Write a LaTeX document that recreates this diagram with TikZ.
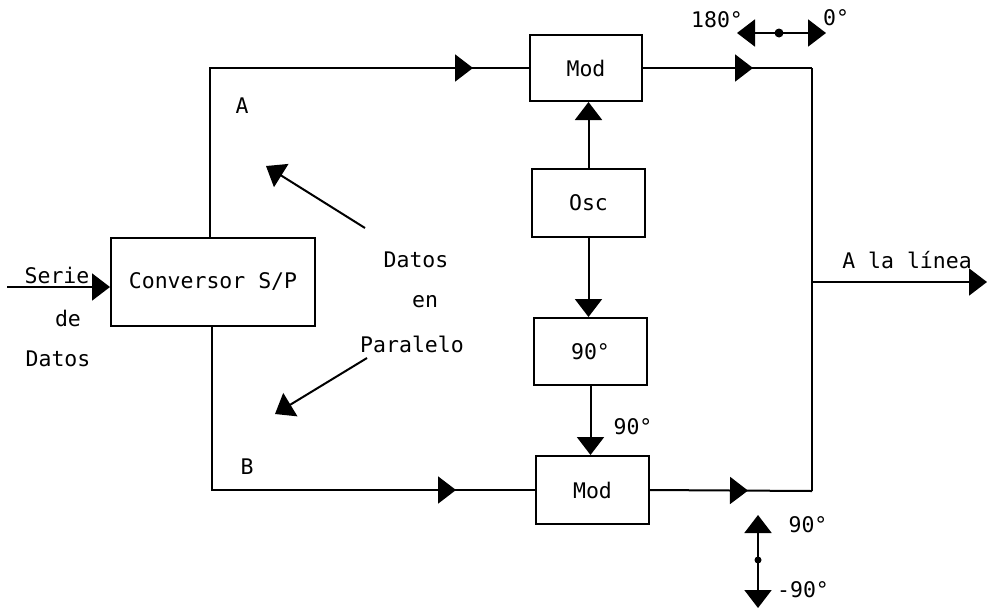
\documentclass[tikz,border=0pt]{standalone}
\usepackage{fontspec}
\setmonofont{DejaVu Sans Mono}
\usetikzlibrary{arrows.meta,decorations.markings}
\tikzset{
  tipA/.tip={Triangle[length=18pt,width=27pt]},
  wire/.style={line width=2pt},
  blk/.style={draw,line width=2pt,inner sep=0pt,font=\lbl},
  lab/.style={inner sep=0pt,font=\lbl},
  midarr/.style={postaction={decorate},decoration={markings,mark=at position #1 with {\arrow{tipA}}}}
}
\newcommand{\lbl}{\ttfamily\fontsize{21.5}{25}\selectfont}
\begin{document}
\begin{tikzpicture}[x=1pt,y=-1pt]
\useasboundingbox (0,0) rectangle (987,611);
% blocks
\node[blk,minimum width=204pt,minimum height=88pt] (conv) at (213,282) {Conversor S/P};
\node[blk,minimum width=112pt,minimum height=66pt] (mod1) at (586,68) {Mod};
\node[blk,minimum width=113pt,minimum height=68pt] (osc) at (588.5,203) {Osc};
\node[blk,minimum width=113pt,minimum height=67pt] (ph) at (590.5,351.5) {90°};
\node[blk,minimum width=113pt,minimum height=68pt] (mod2) at (592.5,490) {Mod};
% coordinates
\coordinate (sIn) at (7,287);
\coordinate (tr) at (812,68);
\coordinate (br) at (812,491);
\coordinate (jn) at (812,282);
\coordinate (out) at (987,282);
\coordinate (u1s) at (365,228);
\coordinate (u1t) at (266,166);
\coordinate (u2s) at (367,358);
\coordinate (u2t) at (275,414);
\coordinate (d180) at (737,33);
\coordinate (d0) at (826,33);
\coordinate (dmid) at (779,33);
\coordinate (v90) at (758,515);
\coordinate (vm90) at (758,608);
\coordinate (vmid) at (758,560);
% connectors
\draw[wire,-tipA] (sIn) -- (sIn -| conv.west);
\draw[wire,midarr=432pt] ([xshift=-3pt]conv.north) |- (mod1.west);
\draw[wire,midarr=407pt] ([xshift=-1pt]conv.south) |- (mod2.west);
\draw[wire,-tipA] (osc.north) -- (osc.north |- mod1.south);
\draw[wire,-tipA] (osc.south) -- (osc.south |- ph.north);
\draw[wire,-tipA] (ph.south) -- (ph.south |- mod2.north);
\draw[wire,midarr=110pt] (mod1.east) -- (tr);
\draw[wire,midarr=98pt] (mod2.east) -- (br);
\draw[wire] (tr) -- (br);
\draw[wire,-tipA] (jn) -- (out);
\draw[wire,-tipA] (u1s) -- (u1t);
\draw[wire,-tipA] (u2s) -- (u2t);
\draw[wire,tipA-tipA] (d180) -- (d0);
\fill (dmid) circle (4.5pt);
\draw[wire,tipA-tipA] (v90) -- (vm90);
\fill (vmid) circle (3.5pt);
% labels
\node[lab] (lA) at (242,106) {A};
\node[lab] (lB) at (247,467) {B};
\node[lab] (ls1) at (57,275) {Serie};
\node[lab] (ls2) at (68,318) {de};
\node[lab] (ls3) at (58,359) {Datos};
\node[lab] (lp1) at (416,260) {Datos};
\node[lab] (lp2) at (425,302) {en};
\node[lab] (lp3) at (412,344) {Paralelo};
\node[lab] (l90m) at (633,427) {90°};
\node[lab] (l180) at (717,20) {180°};
\node[lab] (l0) at (836,18) {0°};
\node[lab] (lline) at (907,260) {A la línea};
\node[lab] (l90b) at (808,525) {90°};
\node[lab] (l90c) at (803,590) {-90°};
\end{tikzpicture}
\end{document}
